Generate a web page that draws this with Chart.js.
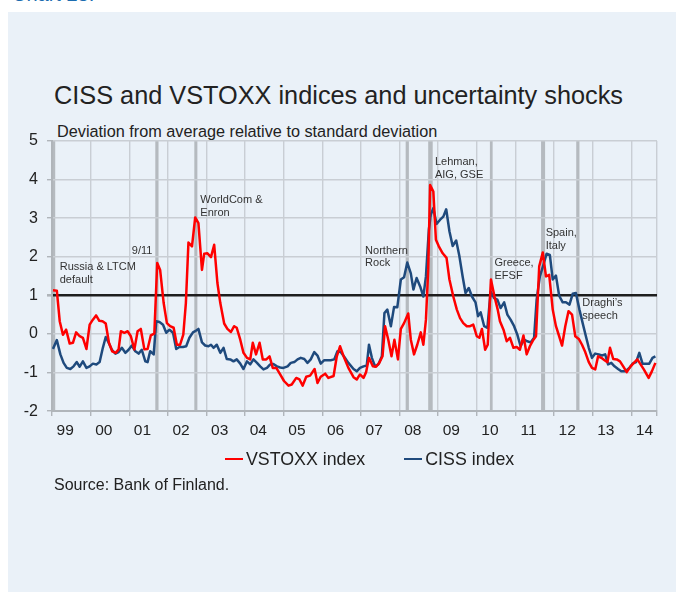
<!DOCTYPE html>
<html lang="en">
<head>
    <meta charset="UTF-8">
    <title>CISS and VSTOXX indices and uncertainty shocks</title>
    <script src="https://cdn.jsdelivr.net/npm/chart.js"></script>
    <style>
        body {
            margin: 0;
            width: 676px;
            height: 592px;
            position: relative;
            overflow: hidden;
            background: #ffffff;
            font-family: "Liberation Sans", Arial, sans-serif;
            color: #222;
        }
        .panel {
            position: absolute;
            left: 8px;
            top: 12px;
            right: 0;
            bottom: 0;
            background: #eaf1f8;
        }
        .txt {
            position: absolute;
            white-space: nowrap;
        }
        #chartNo { left: 12px; top: -18px; font-size: 20px; line-height: 24px; color: #1c6cb0; }
        #title { left: 54px; top: 80px; font-size: 25.3px; line-height: 30px; }
        #subtitle { left: 57px; top: 121px; font-size: 16.25px; line-height: 20px; }
        #source { left: 54px; top: 475px; font-size: 16px; line-height: 20px; }
        #legend { left: 225px; top: 449px; font-size: 17.8px; line-height: 20px; display: flex; align-items: center; }
        #legend .line { width: 18px; height: 2.5px; margin-right: 3px; }
        #legend .item { display: flex; align-items: center; margin-right: 39px; }
        canvas { position: absolute; left: 0; top: 0; }
    </style>
</head>
<body>
    <div class="panel"></div>
    <div class="txt" id="chartNo">Chart 23.</div>
    <div class="txt" id="title">CISS and VSTOXX indices and uncertainty shocks</div>
    <div class="txt" id="subtitle">Deviation from average relative to standard deviation</div>
    <canvas id="myChart" width="676" height="480"></canvas>
    <div class="txt" id="legend">
        <div class="item"><div class="line" style="background:#ff0000"></div>VSTOXX index</div>
        <div class="item"><div class="line" style="background:#1f4a7d"></div>CISS index</div>
    </div>
    <div class="txt" id="source">Source: Bank of Finland.</div>

    <script>
        // months counted from the start of 1999
        const yearLabels = ['99', '00', '01', '02', '03', '04', '05', '06', '07', '08', '09', '10', '11', '12', '13', '14'];
        const lastMonth = 188;

        const vstoxxMonths = [0.3, 1.5, 2.4, 3.4, 4.4, 5.5, 6.5, 7.5, 8.6, 9.6, 10.7, 11.7, 12.7, 13.7, 14.7, 15.7, 16.7, 17.7, 18.7, 19.8,
            20.7, 21.4, 22.5, 23.5, 24.5, 25.6, 26.6, 27.6, 28.7, 29.7, 30.7, 31.8, 32.7, 33.6, 34.7, 35.7, 36.7, 37.8, 38.8, 39.8,
            40.8, 41.6, 42.4, 43.5, 44.5, 45.5, 46.6, 47.3, 48.3, 49.4, 50.4, 51.4, 52.3, 53.5, 54.5, 55.6, 56.6, 57.4, 58.5, 59.5,
            60.6, 61.6, 62.4, 63.4, 64.5, 65.5, 66.6, 67.6, 68.6, 69.7, 70.9, 72.1, 73.5, 74.5, 75.9, 76.9, 77.9, 79, 80.2, 81.6,
            82.5, 83.5, 84.9, 85.9, 87.5, 88.5, 89.5, 90.8, 92.1, 93.7, 94.7, 95.7, 96.8, 97.6, 98.5, 99.7, 100.7, 101.7, 102.7, 103.5,
            104.5, 105.5, 106.4, 107.5, 108.4, 109.4, 110.7, 111.5, 112.5, 113.5, 114.6, 115.4, 116.2, 116.9, 117.5, 118.5, 119.3, 120.2, 121.4, 122.6,
            123.5, 124.7, 125.8, 126.8, 127.8, 128.9, 129.9, 130.9, 132, 132.8, 133.6, 134.6, 135.4, 136.4, 137.5, 138.5, 139.2, 140.3, 141.3, 142.3,
            143.4, 144.4, 145.4, 146.5, 147.5, 148.5, 149.6, 150.4, 151.4, 152.5, 153.5, 154.5, 155.6, 156.6, 157.6, 158.5, 159.5, 160.5, 161.6, 162.6,
            163.7, 164.7, 165.7, 166.8, 167.8, 168.8, 169.7, 170.7, 171.7, 172.6, 173.4, 174.4, 175.5, 176.5, 177.5, 178.6, 179.8, 180.8, 181.9, 182.9,
            183.9, 185.4, 186.4, 187.5];
        const vstoxxValues = [1.13, 1.12, 0.33, -0.02, 0.11, -0.25, -0.23, 0.04, -0.06, -0.1, -0.39, 0.24, 0.37, 0.48, 0.34, 0.33, 0.27, -0.23, -0.45, -0.49,
            -0.4, 0.07, 0.03, 0.07, -0.06, -0.4, 0.07, 0.13, -0.4, -0.39, -0.04, 0.01, 1.84, 1.66, 0.8, 0.28, 0.2, 0.16, -0.28, -0.28,
            -0.02, 0.8, 2.37, 2.27, 3.02, 2.87, 1.66, 2.08, 2.09, 1.99, 2.31, 1.32, 0.8, 0.27, 0.13, 0.05, 0.2, 0.16, -0.15, -0.49,
            -0.62, -0.66, -0.23, -0.53, -0.23, -0.66, -0.66, -0.58, -0.88, -0.88, -1.05, -1.22, -1.34, -1.31, -1.14, -1.18, -1.34, -1.11, -1.08, -0.91,
            -1.27, -1.11, -1.03, -1.14, -1.09, -0.58, -0.32, -0.62, -0.88, -1.12, -1.18, -1.05, -1.14, -0.99, -0.62, -0.84, -0.85, -0.75, -0.58, 0.2,
            -0.15, -0.58, -0.15, -0.66, 0.13, 0.28, 0.53, -0.15, -0.53, -0.28, 0.04, -0.28, 0.37, 1.66, 3.86, 3.69, 2.44, 2.27, 2.09, 1.97,
            1.41, 0.97, 0.63, 0.41, 0.28, 0.2, 0.2, 0.24, -0.06, -0.1, 0.13, -0.41, -0.28, 1.41, 0.97, 0.63, 0.33, 0.11, -0.19, -0.1,
            -0.36, -0.34, -0.41, -0.04, -0.53, -0.32, -0.15, -0.06, 1.75, 2.11, 1.49, 1.53, 0.63, 0.2, -0.06, -0.3, 0.2, 0.59, 0.5, -0.06,
            -0.13, -0.28, -0.47, -0.73, -0.88, -0.92, -0.58, -0.62, -0.68, -0.73, -0.36, -0.65, -0.66, -0.71, -0.84, -0.99, -0.84, -0.75, -0.66, -0.79,
            -0.92, -1.14, -0.97, -0.75];

        const cissMonths = [0.3, 1.5, 2.6, 3.6, 4.6, 5.7, 6.7, 7.7, 8.6, 9.6, 10.7, 11.7, 12.7, 13.8, 14.8, 15.8, 16.7, 17.6, 18.6, 19.7,
            20.7, 21.7, 22.8, 23.8, 24.8, 25.9, 26.9, 27.9, 29, 29.7, 30.5, 31.6, 32.4, 33.4, 34.5, 35.5, 36.5, 37.6, 38.6, 39.6,
            40.7, 41.7, 42.7, 43.8, 44.8, 45.5, 46.6, 47.6, 48.6, 49.4, 50.2, 51.2, 52.3, 53.3, 54.3, 55.4, 56.4, 57.4, 58.5, 59.5,
            60.6, 61.6, 62.6, 63.7, 64.7, 65.7, 66.8, 67.8, 68.8, 69.9, 70.9, 71.9, 73.2, 74.2, 75.3, 76.3, 77.3, 78.4, 79.4, 80.4,
            81.5, 82.5, 83.5, 84.6, 85.6, 86.6, 87.7, 88.7, 89.7, 90.8, 92.1, 93.7, 94.7, 95.7, 96.8, 97.8, 98.5, 99.4, 100.4, 101.4,
            102.5, 103.3, 104.2, 105.3, 106.3, 107.3, 108.4, 109.4, 110.4, 111.5, 112.3, 113.3, 114.4, 115.4, 116.2, 117.1, 117.7, 118.5, 119.5, 120.6,
            121.6, 122.5, 123.5, 124.5, 125.6, 126.6, 127.6, 128.5, 129.5, 130.5, 131.6, 132.4, 133.2, 134.3, 135.3, 136.3, 137.4, 138.4, 139.4, 140.5,
            141.5, 142.5, 143.6, 144.6, 145.6, 146.7, 147.7, 148.7, 149.8, 150.6, 151.6, 152.7, 153.7, 154.7, 155.6, 156.6, 157.6, 158.7, 159.7, 160.8,
            161.8, 162.8, 163.9, 164.9, 165.9, 166.8, 167.8, 168.8, 169.9, 170.9, 171.9, 172.8, 173.8, 174.8, 175.9, 176.9, 178.1, 179.4, 180.4, 181.5,
            182.5, 183.5, 184.6, 185.6, 186.6, 187.5];
        const cissValues = [-0.39, -0.16, -0.53, -0.75, -0.88, -0.91, -0.84, -0.73, -0.85, -0.71, -0.88, -0.84, -0.77, -0.79, -0.73, -0.36, -0.08, -0.23, -0.41, -0.51,
            -0.47, -0.36, -0.49, -0.41, -0.3, -0.45, -0.51, -0.41, -0.71, -0.73, -0.45, -0.53, 0.33, 0.31, 0.24, 0.03, 0.11, 0.03, -0.39, -0.34,
            -0.34, -0.32, -0.1, 0.04, 0.09, 0.13, -0.22, -0.3, -0.32, -0.28, -0.36, -0.28, -0.49, -0.36, -0.65, -0.66, -0.71, -0.66, -0.77, -0.91,
            -0.71, -0.79, -0.66, -0.75, -0.84, -0.92, -0.88, -0.79, -0.78, -0.84, -0.87, -0.88, -0.84, -0.75, -0.73, -0.66, -0.62, -0.65, -0.75, -0.66,
            -0.47, -0.56, -0.77, -0.68, -0.68, -0.68, -0.66, -0.45, -0.47, -0.59, -0.75, -0.91, -0.97, -0.88, -0.84, -0.82, -0.28, -0.62, -0.84, -0.79,
            -0.58, 0.54, 0.63, 0.2, 0.7, 0.69, 1.41, 1.47, 1.85, 1.57, 1.15, 1.45, 1.23, 0.97, 1.49, 2.7, 3.09, 3.26, 2.85, 2.96,
            3.04, 3.23, 2.66, 2.28, 2.42, 2.01, 1.49, 1.06, 1.19, 0.97, 0.82, 0.46, 0.56, 0.2, 0.16, 1.1, 0.93, 0.89, 0.67, 0.82,
            0.5, 0.37, 0.2, -0.02, -0.32, -0.15, -0.19, -0.22, -0.1, 0.89, 1.49, 1.79, 2.08, 2.05, 1.41, 1.51, 0.99, 0.82, 0.82, 0.76,
            1.04, 1.06, 0.63, 0.28, -0.06, -0.36, -0.62, -0.51, -0.53, -0.56, -0.53, -0.79, -0.75, -0.84, -0.91, -0.97, -0.97, -0.88, -0.77, -0.73,
            -0.49, -0.77, -0.77, -0.77, -0.62, -0.58];

        // uncertainty shocks: month of the shock, its length in months, and the note
        const shockMonths = [0.5, 32.6, 44.7, 110.4, 117.6, 136.5, 152.6, 163.4];
        const shockSpans = [1, 1, 0.95, 1, 1.4, 0.85, 1.25, 1];
        const shockNotes = [
            ['Russia & LTCM', 'default'],
            ['9/11'],
            ['WorldCom &', 'Enron'],
            ['Northern', 'Rock'],
            ['Lehman,', 'AIG, GSE'],
            ['Greece,', 'EFSF'],
            ['Spain,', 'Italy'],
            ['Draghi\u2019s', 'speech']
        ];

        Chart.defaults.font.family = '"Liberation Sans", Arial, sans-serif';
        Chart.defaults.color = '#222';

        const gridColor = '#c9ced4';

        // grey bars for the shocks, and their notes
        const shockPlugin = {
            id: 'shockPlugin',
            beforeDraw(chart) {
                const {ctx, chartArea, scales: {x}} = chart;
                ctx.save();
                ctx.fillStyle = '#b5babf';
                shockMonths.forEach((m, i) => {
                    const x0 = x.getPixelForValue(m - shockSpans[i] / 2);
                    const x1 = x.getPixelForValue(m + shockSpans[i] / 2);
                    ctx.fillRect(x0, chartArea.top, x1 - x0, chartArea.bottom - chartArea.top);
                });
                ctx.restore();
            },
            afterDatasetsDraw(chart) {
                const {ctx, scales: {x, y}} = chart;
                // where each note sits, in months and index units
                const notePos = [[2.4, 1.74], [24.8, 2.16], [46.1, 3.47], [97.3, 2.16], [119, 4.46], [137.5, 1.83], [153.4, 2.61], [164.8, 0.8]];
                ctx.save();
                ctx.font = '11px "Liberation Sans", Arial, sans-serif';
                ctx.fillStyle = '#333';
                ctx.textBaseline = 'middle';
                shockNotes.forEach((lines, i) => {
                    const px = x.getPixelForValue(notePos[i][0]);
                    const py = y.getPixelForValue(notePos[i][1]);
                    lines.forEach((t, j) => ctx.fillText(t, px, py + j * 12.7));
                });
                ctx.restore();
            }
        };

        const ctx = document.getElementById('myChart').getContext('2d');

        new Chart(ctx, {
            type: 'line',
            data: {
                datasets: [
                    {
                        label: 'VSTOXX index',
                        data: vstoxxMonths.map((m, i) => ({x: m, y: vstoxxValues[i]})),
                        borderColor: '#ff0000',
                        backgroundColor: '#ff0000',
                        borderWidth: 2.5,
                        pointRadius: 0,
                        borderJoinStyle: 'round',
                        tension: 0
                    },
                    {
                        label: 'CISS index',
                        data: cissMonths.map((m, i) => ({x: m, y: cissValues[i]})),
                        borderColor: '#1f4a7d',
                        backgroundColor: '#1f4a7d',
                        borderWidth: 2.5,
                        pointRadius: 0,
                        borderJoinStyle: 'round',
                        tension: 0
                    }
                ]
            },
            options: {
                responsive: false,
                animation: false,
                layout: {
                    padding: {top: 141, right: 19, bottom: 35.3, left: 0}
                },
                plugins: {
                    legend: {display: false},
                    tooltip: {enabled: false}
                },
                scales: {
                    x: {
                        type: 'linear',
                        min: 0,
                        max: lastMonth,
                        afterBuildTicks: (axis) => {
                            axis.ticks = yearLabels.map((_, i) => ({value: i * 12})).concat([{value: lastMonth}]);
                        },
                        ticks: {
                            autoSkip: false,
                            maxRotation: 0,
                            labelOffset: 13.2,
                            padding: 5,
                            font: {size: 15.5},
                            color: '#222',
                            callback: (value) => yearLabels[value / 12] || ''
                        },
                        grid: {
                            color: gridColor,
                            lineWidth: 1.4,
                            tickLength: 5,
                            tickColor: '#b0b5ba'
                        },
                        border: {color: '#b0b5ba', width: 2}
                    },
                    y: {
                        min: -2,
                        max: 5,
                        afterFit: (axis) => { axis.width = 52; },
                        ticks: {
                            stepSize: 1,
                            padding: 9,
                            font: {size: 16},
                            color: '#222'
                        },
                        grid: {
                            color: (c) => c.tick && c.tick.value === 1 ? '#1e1e1e' : gridColor,
                            lineWidth: (c) => c.tick && c.tick.value === 1 ? 2.6 : 1.4,
                            tickLength: 5,
                            tickColor: '#b0b5ba'
                        },
                        border: {color: '#b0b5ba', width: 2}
                    }
                }
            },
            plugins: [shockPlugin]
        });
    </script>
</body>
</html>
